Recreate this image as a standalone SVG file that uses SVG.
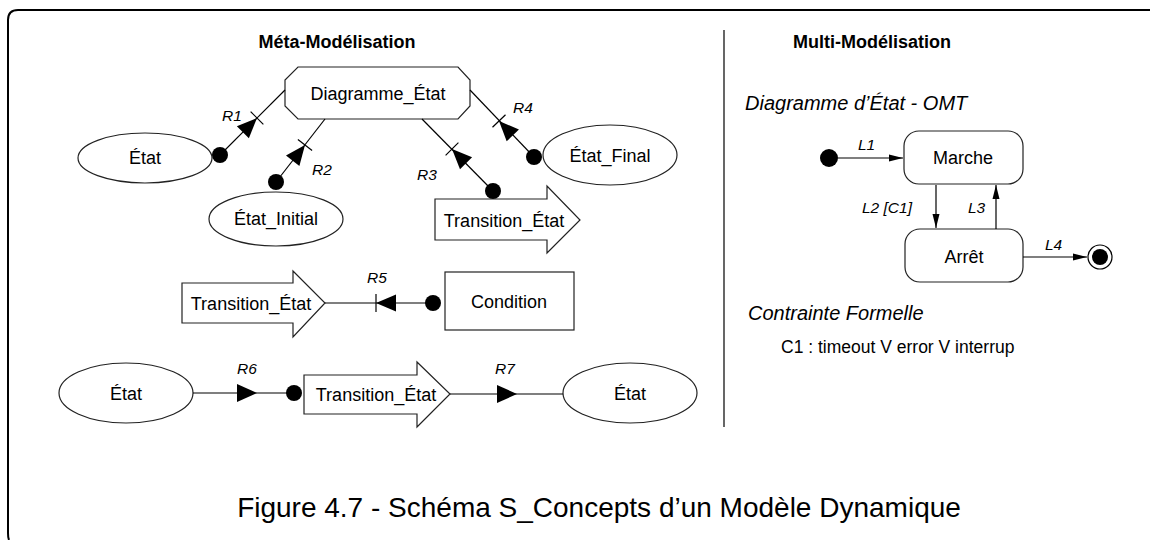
<svg xmlns="http://www.w3.org/2000/svg" width="1150" height="540" viewBox="0 0 1150 540">
<style>
text{font-family:"Liberation Sans",Arial,Helvetica,sans-serif;fill:#000}
.n{font-size:18px;text-anchor:middle}
.t{font-size:18px;font-weight:bold;text-anchor:middle}
.r{font-size:15.5px;font-style:italic}
.h{font-size:20px;font-style:italic}
.s{fill:#fff;stroke:#222;stroke-width:1.2}
.c{stroke:#000;stroke-width:1.2;fill:none}
.d{fill:#000}
</style>
<defs>
<g id="ta"><line x1="0" y1="-9" x2="0" y2="9" stroke="#000" stroke-width="1.2"/><polygon points="0,0 -20,-8.5 -20,8.5" fill="#000"/></g>
<polygon id="ar" points="0,0 -20,-9 -20,9" fill="#000"/>
<marker id="m" markerWidth="14" markerHeight="8" refX="14" refY="4" orient="auto" markerUnits="userSpaceOnUse"><polygon points="0,0.5 14,4 0,7.5" fill="#000"/></marker>
</defs>
<rect width="1150" height="540" fill="#fff"/>
<path d="M9,540 Q8,538 8,533 L8,20 Q8,10 18,10 L1150,10" stroke="#000" stroke-width="2" fill="none"/>
<line x1="724" y1="30" x2="724" y2="427" stroke="#000" stroke-width="1.2"/>
<text class="t" x="337" y="48">Méta-Modélisation</text>
<text class="t" x="872" y="48">Multi-Modélisation</text>

<g id="diagramme_etat"><polygon class="s" points="298,67 458,67 470,80 470,106 458,119 298,119 285,106 285,80"/><text class="n" x="378" y="100">Diagramme_État</text></g>
<g id="etat1"><ellipse class="s" cx="145" cy="158" rx="67" ry="25"/><text class="n" x="145" y="164">État</text></g>
<g id="etat_initial"><ellipse class="s" cx="276" cy="219" rx="67" ry="27"/><text class="n" x="276" y="225">État_Initial</text></g>
<g id="etat_final"><ellipse class="s" cx="610" cy="155" rx="67" ry="30"/><text class="n" x="610" y="162">État_Final</text></g>
<g id="transition1"><polygon class="s" points="435,199 547,199 547,186 580,220 547,253 547,240 435,240"/><text class="n" x="504" y="227">Transition_État</text></g>
<g id="transition2"><polygon class="s" points="182,283 293,283 293,271 325,303 293,337 293,323 182,323"/><text class="n" x="251" y="310">Transition_État</text></g>
<g id="condition"><rect class="s" x="445" y="272" width="129" height="58"/><text class="n" x="509" y="308">Condition</text></g>
<g id="etat2"><ellipse class="s" cx="126" cy="393" rx="67" ry="30"/><text class="n" x="126" y="400">État</text></g>
<g id="transition3"><polygon class="s" points="304,375 417,375 417,362 450,394 417,427 417,414 304,414"/><text class="n" x="376" y="401">Transition_État</text></g>
<g id="etat3"><ellipse class="s" cx="630" cy="393" rx="67" ry="30"/><text class="n" x="630" y="400">État</text></g>

<g id="marche"><rect class="s" x="904" y="131" width="119" height="53" rx="15"/><text class="n" x="963" y="164">Marche</text></g>
<g id="arret"><rect class="s" x="905" y="229" width="118" height="53" rx="15"/><text class="n" x="964" y="263">Arrêt</text></g>
<g id="initial"><circle class="d" cx="829" cy="158" r="9"/></g>
<g id="final"><circle cx="1100" cy="257" r="12" fill="#fff" stroke="#000" stroke-width="1.2"/><circle class="d" cx="1100" cy="257" r="8"/></g>

<g id="connectors">
<line class="c" x1="220" y1="155" x2="285" y2="90"/>
<use href="#ta" transform="translate(257,118) rotate(-45)"/>
<circle class="d" cx="220" cy="155" r="8"/>
<line class="c" x1="276" y1="182" x2="325" y2="119"/>
<use href="#ta" transform="translate(305,145) rotate(-52)"/>
<circle class="d" cx="276" cy="182" r="8"/>
<line class="c" x1="493" y1="191" x2="422" y2="119"/>
<use href="#ta" transform="translate(452,149) rotate(-134.6)"/>
<circle class="d" cx="493" cy="191" r="8"/>
<line class="c" x1="534" y1="157" x2="470" y2="90"/>
<use href="#ta" transform="translate(499,121) rotate(-133.7)"/>
<circle class="d" cx="534" cy="157" r="8"/>
<line class="c" x1="325" y1="303" x2="433" y2="303"/>
<use href="#ta" transform="translate(376,303) rotate(180)"/>
<circle class="d" cx="433" cy="303" r="8"/>
<line class="c" x1="193" y1="393" x2="294" y2="393"/>
<use href="#ar" transform="translate(257,393)"/>
<circle class="d" cx="294" cy="393" r="8"/>
<line class="c" x1="450" y1="394" x2="563" y2="394"/>
<use href="#ar" transform="translate(517,394)"/>
<line class="c" x1="838" y1="158" x2="903" y2="158" marker-end="url(#m)"/>
<line class="c" x1="936" y1="185" x2="936" y2="228" marker-end="url(#m)"/>
<line class="c" x1="996" y1="229" x2="996" y2="185" marker-end="url(#m)"/>
<line class="c" x1="1023" y1="257" x2="1087" y2="257" marker-end="url(#m)"/>
<text class="r" x="222" y="121">R1</text>
<text class="r" x="312" y="175">R2</text>
<text class="r" x="417" y="180">R3</text>
<text class="r" x="513" y="113">R4</text>
<text class="r" x="367" y="283">R5</text>
<text class="r" x="237" y="374">R6</text>
<text class="r" x="495" y="374">R7</text>
<text class="r" x="858" y="150">L1</text>
<text class="r" x="862" y="213">L2 [C1]</text>
<text class="r" x="968" y="213">L3</text>
<text class="r" x="1045" y="250">L4</text>
</g>

<text class="h" x="745" y="110">Diagramme d’État - OMT</text>
<text class="h" x="748" y="320">Contrainte Formelle</text>
<text x="781" y="353" font-size="17.5">C1 : timeout V error V interrup</text>
<text x="599" y="517" font-size="28" text-anchor="middle">Figure 4.7 - Schéma S_Concepts d’un Modèle Dynamique</text>
</svg>
